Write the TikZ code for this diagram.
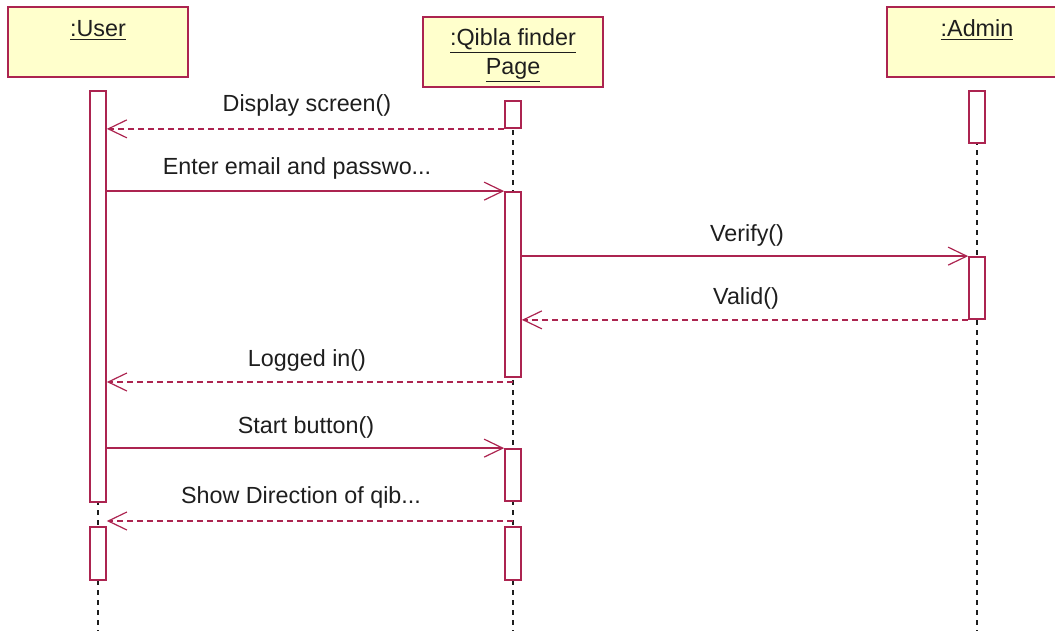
\documentclass[tikz,border=0pt]{standalone}
\usepackage{fontspec}
\setmainfont{Liberation Sans}
\usetikzlibrary{arrows.meta,backgrounds}
\definecolor{uml}{RGB}{172,36,80}
\definecolor{hdr}{RGB}{255,255,204}
\definecolor{ink}{RGB}{30,30,30}
\begin{document}
\begin{tikzpicture}[x=0.75pt,y=-0.75pt,
  head/.style={draw=uml, fill=hdr, line width=1.5pt, minimum width=135pt, minimum height=52.5pt, inner sep=0pt},
  title/.style={anchor=base, inner sep=0pt, text=ink, font=\fontsize{17.5}{22.5}\selectfont, align=center},
  act/.style={draw=uml, fill=white, line width=1.3pt, minimum width=12pt, inner sep=0pt},
  life/.style={draw=ink, line width=1pt, dash pattern=on 4pt off 3.5pt},
  lbl/.style={anchor=base, inner sep=0pt, text=ink, font=\fontsize{17.5}{21}\selectfont},
  sync/.style={draw=uml, line width=1.35pt, -{Straight Barb[length=14pt,width=13.5pt,line width=0.9pt]}},
  reply/.style={sync, dash pattern=on 4.5pt off 3pt}]
\clip (0,0) rectangle (1055,631);
% headers
\node[head] (hu) at (98,42) {};
\node[head] (hq) at (513,52) {};
\node[head] (ha) at (977,42) {};
\node[title] (tu) at (98,37) {\underline{:User}};
\node[title] (tq1) at (513,46) {\underline{:Qibla finder}};
\node[title] (tq2) at (513,75) {\underline{Page}};
\node[title] (ta) at (977,37) {\underline{:Admin}};
% activations
\node[act, minimum height=308.25pt] (u1) at (98,296.5) {};
\node[act, minimum height=39.75pt] (u2) at (98,553.5) {};
\node[act, minimum height=20.25pt] (q1) at (513,114.5) {};
\node[act, minimum height=138.75pt] (q2) at (513,284.5) {};
\node[act, minimum height=39pt] (q3) at (513,475) {};
\node[act, minimum height=39.75pt] (q4) at (513,553.5) {};
\node[act, minimum height=39pt] (a1) at (977,117) {};
\node[act, minimum height=46.5pt] (a2) at (977,288) {};
% lifeline ends
\coordinate (ue) at (98,631);
\coordinate (qe) at (513,631);
\coordinate (ae) at (977,631);
\begin{scope}[on background layer]
  \draw[life] (u1.north) -- (ue);
  \draw[life] (q1.north) -- (qe);
  \draw[life] (a1.north) -- (ae);
\end{scope}
% messages
\coordinate (m5) at (513,382);
\coordinate (m7) at (513,521);
\draw[reply] (q1.south west) -- (u1.east |- q1.south west);
\draw[sync] (u1.east |- q2.north) -- (q2.north west);
\draw[sync] (q2.east |- a2.north) -- (a2.north west);
\draw[reply] (a2.south west) -- (q2.east |- a2.south west);
\draw[reply] (m5) -- (u1.east |- m5);
\draw[sync] (u1.east |- q3.north) -- (q3.north west);
\draw[reply] (m7) -- (u1.east |- m7);
% labels
\node[lbl] (l1) at (307,112) {Display screen()};
\node[lbl] (l2) at (297,175) {Enter email and passwo...};
\node[lbl] (l3) at (747,241) {Verify()};
\node[lbl] (l4) at (746,304) {Valid()};
\node[lbl] (l5) at (307,366) {Logged in()};
\node[lbl] (l6) at (306,433) {Start button()};
\node[lbl] (l7) at (301,503) {Show Direction of qib...};
\end{tikzpicture}
\end{document}
